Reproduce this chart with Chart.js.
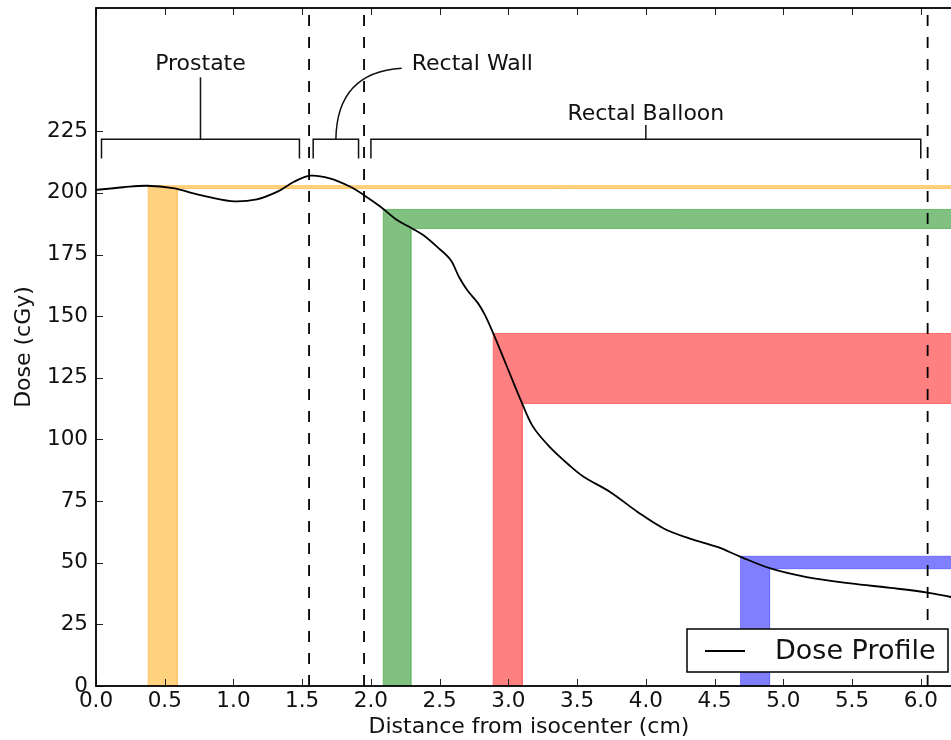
<!DOCTYPE html>
<html><head><meta charset="utf-8">
<script src="https://cdn.jsdelivr.net/npm/chart.js@4.4.0/dist/chart.umd.min.js"></script>
<style>html,body{margin:0;padding:0;overflow:hidden;background:#fff;width:951px;height:740px}canvas{display:block}</style>
</head><body>
<canvas id="c" width="970" height="740"></canvas>
<script>
// ---- data ----
const distance = [0.00,0.20,0.37,0.56,0.76,0.98,1.17,1.32,1.44,1.56,1.70,1.85,1.95,2.07,2.19,2.30,2.38,2.48,2.58,2.64,2.70,2.78,2.83,2.89,2.99,3.10,3.18,3.30,3.45,3.55,3.74,3.94,4.13,4.32,4.52,4.69,4.90,5.17,5.49,5.78,6.05,6.22,6.30];
const dose     = [201.2,202.3,202.9,201.9,199.1,196.7,197.4,200.5,204.5,207.0,205.9,202.5,199.1,194.4,189.0,185.6,182.9,178.2,172.8,166.0,160.6,155.2,150.4,143.0,129.5,114.6,105.1,97.0,89.2,84.8,78.7,70.6,63.9,59.8,56.4,52.4,47.8,44.2,41.6,39.8,37.9,36.1,35.4];
const xTicks = [0,0.5,1,1.5,2,2.5,3,3.5,4,4.5,5,5.5,6];
const xTickLabels = ['0.0','0.5','1.0','1.5','2.0','2.5','3.0','3.5','4.0','4.5','5.0','5.5','6.0'];
const yTicks = [0,25,50,75,100,125,150,175,200,225];
const yTickLabels = ['0','25','50','75','100','125','150','175','200','225'];
const bandStart    = [0.38, 2.09, 2.89, 4.69];
const bandEnd      = [0.59, 2.29, 3.10, 4.90];
const bandDoseHigh = [202.9, 193.3, 143.0, 52.6];
const bandDoseLow  = [201.8, 185.6, 114.6, 47.6];
const boundaries = [1.55, 1.95, 6.05];
const regionNames = ['Prostate','Rectal Wall','Rectal Balloon'];
const regionStart = [0.04, 1.58, 2.00];
const regionEnd   = [1.48, 1.91, 6.00];
const X_MAX = 6.3, Y_MAX = 275;

// ---- styles / annotation layout ----
const bandFill = ['#FFD280','#80C080','#FF8080','#8080FF'];
const bandEdge = ['#FFC766','#6BB56B','#FF6B6B','#6B6BFF'];
const bracketDose = 221.8, bracketTipDose = 214.0;
const regionAnno = [
  {stemTop:246.9, labelX:0.76, labelY:249.9, align:'center', curved:false},
  {stemTop:250.6, stemEndX:2.224, labelX:2.297, labelY:249.9, align:'left', curved:true},
  {stemTop:227.5, labelX:4.0, labelY:229.6, align:'center', curved:false}
];
const FONT = '"DejaVu Sans", "Liberation Sans", sans-serif';

const datasets = [{
  label:'Dose Profile', data: distance.map((d,i)=>({x:d,y:dose[i]})),
  borderColor:'#000', borderWidth:1.8, pointRadius:0, fill:false,
  tension:0.35, order:0
}];
boundaries.forEach(b => datasets.push({
  label:'boundary', data:[{x:b,y:0},{x:b,y:Y_MAX}], borderColor:'#000', borderWidth:1.8,
  borderDash:[11,11], pointRadius:0, fill:false, order:1
}));
bandStart.forEach((s,i)=>{
  const e = bandEnd[i], hi = bandDoseHigh[i], lo = bandDoseLow[i];
  datasets.push({
    label:'band', data:[{x:s,y:0},{x:s,y:hi},{x:X_MAX,y:hi},{x:X_MAX,y:lo},{x:e,y:lo},{x:e,y:0},{x:s,y:0}],
    fill:'shape', backgroundColor:bandFill[i], borderColor:bandEdge[i], borderWidth:1,
    pointRadius:0, tension:0, order:2
  });
});

const decor = {
  id:'decor',
  afterDraw(chart){
    const ctx = chart.ctx, ca = chart.chartArea, xs = chart.scales.x, ys = chart.scales.y;
    ctx.save();
    // ticks (inward)
    ctx.strokeStyle = '#222'; ctx.lineWidth = 1;
    xTicks.forEach(v=>{ const p = Math.round(xs.getPixelForValue(v))+0.5;
      ctx.beginPath(); ctx.moveTo(p,ca.bottom); ctx.lineTo(p,ca.bottom-7);
      ctx.moveTo(p,ca.top); ctx.lineTo(p,ca.top+7); ctx.stroke(); });
    yTicks.forEach(v=>{ const p = Math.round(ys.getPixelForValue(v))+0.5;
      ctx.beginPath(); ctx.moveTo(ca.left,p); ctx.lineTo(ca.left+7,p);
      ctx.moveTo(ca.right,p); ctx.lineTo(ca.right-7,p); ctx.stroke(); });
    // spines
    ctx.strokeStyle = '#000'; ctx.lineWidth = 1.8;
    ctx.strokeRect(ca.left, ca.top, ca.right-ca.left, ca.bottom-ca.top);
    // brackets
    ctx.strokeStyle = '#111'; ctx.lineWidth = 1.5; ctx.fillStyle = '#111';
    ctx.font = '22px ' + FONT; ctx.textBaseline = 'alphabetic';
    regionNames.forEach((name,i)=>{
      const s = xs.getPixelForValue(regionStart[i]), e = xs.getPixelForValue(regionEnd[i]);
      const yb = ys.getPixelForValue(bracketDose), yt = ys.getPixelForValue(bracketTipDose);
      ctx.beginPath(); ctx.moveTo(s,yt); ctx.lineTo(s,yb); ctx.lineTo(e,yb); ctx.lineTo(e,yt); ctx.stroke();
      const a = regionAnno[i], c = (s+e)/2;
      ctx.beginPath(); ctx.moveTo(c,yb);
      if (a.curved) {
        const ex = xs.getPixelForValue(a.stemEndX), ey = ys.getPixelForValue(a.stemTop);
        ctx.quadraticCurveTo(c+1, ey+4, ex, ey);
      } else {
        ctx.lineTo(c, ys.getPixelForValue(a.stemTop));
      }
      ctx.stroke();
      ctx.textAlign = a.align;
      ctx.fillText(name, xs.getPixelForValue(a.labelX), ys.getPixelForValue(a.labelY));
    });
    // legend
    const bw = 261, bh = 43, bx = ca.right-14-bw, by = ca.bottom-14-bh;
    ctx.fillStyle = '#fff'; ctx.fillRect(bx,by,bw,bh);
    ctx.strokeStyle = '#000'; ctx.lineWidth = 1.5; ctx.strokeRect(bx,by,bw,bh);
    ctx.lineWidth = 1.8; ctx.beginPath(); ctx.moveTo(bx+18,by+22); ctx.lineTo(bx+58,by+22); ctx.stroke();
    ctx.fillStyle = '#111'; ctx.font = '27px ' + FONT; ctx.textAlign = 'left'; ctx.textBaseline='alphabetic';
    ctx.fillText(chart.data.datasets[0].label, bx+88, by+30);
    ctx.restore();
  }
};

new Chart(document.getElementById('c'), {
  type:'line',
  data:{datasets},
  options:{
    responsive:false, animation:false, events:[],
    layout:{padding:{left:0,right:8,top:8,bottom:0}},
    plugins:{legend:{display:false}, tooltip:{enabled:false}},
    scales:{
      x:{type:'linear', min:0, max:X_MAX,
        afterFit:s=>{s.height=54; s.paddingLeft=0; s.paddingRight=0;},
        afterBuildTicks:s=>{s.ticks = xTicks.map(v=>({value:v}));},
        grid:{display:false, drawTicks:false}, border:{display:false},
        ticks:{autoSkip:false, maxRotation:0, padding:3, color:'#111', font:{family:FONT,size:21.5},
          callback:(v,i)=>xTickLabels[i]},
        title:{display:true, text:'Distance from isocenter (cm)', color:'#111', font:{family:FONT,size:22}, padding:{top:0,bottom:0}}
      },
      y:{type:'linear', min:0, max:Y_MAX,
        afterFit:s=>{s.width=96; s.paddingTop=0; s.paddingBottom=0;},
        afterBuildTicks:s=>{s.ticks = yTicks.map(v=>({value:v}));},
        grid:{display:false, drawTicks:false}, border:{display:false},
        ticks:{autoSkip:false, padding:8, color:'#111', font:{family:FONT,size:21.5},
          callback:(v,i)=>yTickLabels[i]},
        title:{display:true, text:'Dose (cGy)', color:'#111', font:{family:FONT,size:22}, padding:{top:11,bottom:0}}
      }
    }
  },
  plugins:[decor]
});
</script>
</body></html>
